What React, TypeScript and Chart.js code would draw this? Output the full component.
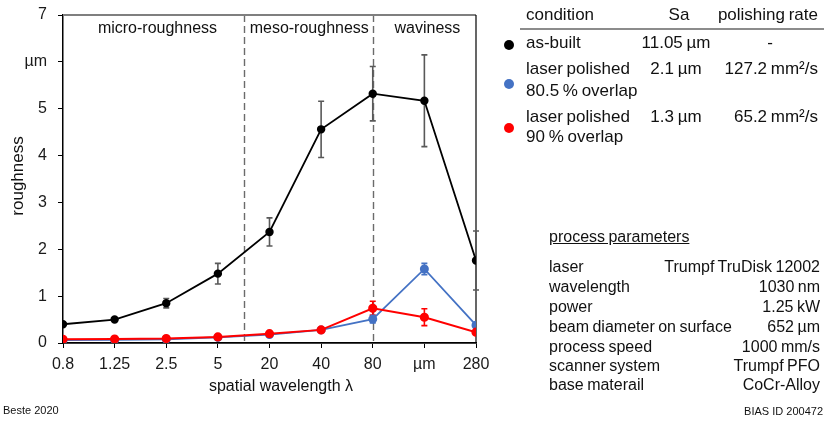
import React, { useEffect, useRef } from "react";
import { Chart, registerables } from "chart.js";

Chart.register(...registerables);

const xLabels = ["0.8", "1.25", "2.5", "5", "20", "40", "80", "µm", "280"];
const yTickLabels = ["0", "1", "2", "3", "4", "5", "µm", "7"];

const asBuilt = [0.4, 0.5, 0.85, 1.48, 2.37, 4.56, 5.32, 5.17, 1.76];
const asBuiltErr = [0, 0, 0.1, 0.22, 0.3, 0.6, 0.58, 0.98, 0.63];
const lp805 = [0.06, 0.065, 0.08, 0.12, 0.18, 0.28, 0.51, 1.58, 0.38];
const lp805Err = [0, 0, 0, 0, 0, 0, 0.08, 0.12, 0];
const lp90 = [0.08, 0.085, 0.095, 0.13, 0.2, 0.28, 0.74, 0.55, 0.23];
const lp90Err = [0, 0, 0, 0, 0, 0, 0.15, 0.18, 0];

const regionLabels = ["micro-roughness", "meso-roughness", "waviness"];
const regionCenters = [1.83, 4.77, 7.06]; // in category units
const dividers = [3.5, 6];

const xTitle = "spatial wavelength λ";
const yTitle = "roughness";

const legendHeader = ["condition", "Sa", "polishing rate"];
const legendNames = [["as-built"], ["laser polished", "80.5 % overlap"], ["laser polished", "90 % overlap"]];
const legendSa = ["11.05 µm", "2.1 µm", "1.3 µm"];
const legendRate = ["-", "127.2 mm²/s", "65.2 mm²/s"];
const seriesColors = ["#000000", "#4472C4", "#FF0000"];
const errColors = ["#595959", "#4472C4", "#FF0000"];

const paramTitle = "process parameters";
const paramNames = ["laser", "wavelength", "power", "beam diameter on surface", "process speed", "scanner system", "base materail"];
const paramValues = ["Trumpf TruDisk 12002", "1030 nm", "1.25 kW", "652 µm", "1000 mm/s", "Trumpf PFO", "CoCr-Alloy"];

const FONT = '"Liberation Sans", Arial, sans-serif';

const toPts = (arr: number[]) => arr.map((v, i) => ({ x: i, y: v }));

export default function App() {
  const ref = useRef<HTMLCanvasElement | null>(null);

  useEffect(() => {
    const canvas = ref.current;
    if (!canvas) return;
    const errs = [asBuiltErr, lp805Err, lp90Err];
    const vals = [asBuilt, lp805, lp90];

    const decor = {
      id: "decor",
      beforeDatasetsDraw(chart: any) {
        const { ctx, chartArea } = chart;
        const xs = chart.scales.x;
        const ys = chart.scales.y;
        ctx.save();
        ctx.strokeStyle = "#6b6b6b";
        ctx.lineWidth = 1.4;
        ctx.setLineDash([7, 4]);
        dividers.forEach((d) => {
          const px = Math.round(xs.getPixelForValue(d)) + 0.5;
          ctx.beginPath();
          ctx.moveTo(px, chartArea.top);
          ctx.lineTo(px, chartArea.bottom);
          ctx.stroke();
        });
        ctx.setLineDash([]);
        ctx.strokeStyle = "#7f7f7f";
        ctx.lineWidth = 2;
        ctx.beginPath();
        ctx.moveTo(chartArea.left, chartArea.top);
        ctx.lineTo(chartArea.right, chartArea.top);
        ctx.stroke();
        ctx.strokeStyle = "#000";
        ctx.lineWidth = 1.2;
        ctx.beginPath();
        ctx.moveTo(chartArea.right, chartArea.top);
        ctx.lineTo(chartArea.right, chartArea.bottom);
        ctx.stroke();
        errs.forEach((eArr, di) => {
          ctx.strokeStyle = errColors[di];
          ctx.lineWidth = 1.6;
          eArr.forEach((e, i) => {
            if (!e) return;
            const v = vals[di][i];
            const px = xs.getPixelForValue(i);
            const t = ys.getPixelForValue(v + e);
            const b = ys.getPixelForValue(v - e);
            ctx.beginPath();
            ctx.moveTo(px, t);
            ctx.lineTo(px, b);
            ctx.moveTo(px - 3, t);
            ctx.lineTo(px + 3, t);
            ctx.moveTo(px - 3, b);
            ctx.lineTo(px + 3, b);
            ctx.stroke();
          });
        });
        ctx.fillStyle = "#111";
        ctx.font = `16px ${FONT}`;
        ctx.textAlign = "center";
        ctx.textBaseline = "middle";
        regionLabels.forEach((lab, i) => {
          ctx.fillText(lab, xs.getPixelForValue(regionCenters[i]), 29);
        });
        ctx.fillText(xTitle, 281, 387);
        ctx.save();
        ctx.translate(18, 176);
        ctx.rotate(-Math.PI / 2);
        ctx.font = `17px ${FONT}`;
        ctx.fillText(yTitle, 0, 0);
        ctx.restore();
        ctx.restore();
      },
    };

    const chart = new Chart(canvas, {
      type: "line",
      data: {
        datasets: [
          {
            label: "as-built",
            data: toPts(asBuilt),
            borderColor: seriesColors[0],
            backgroundColor: seriesColors[0],
            pointBackgroundColor: seriesColors[0],
            pointBorderColor: seriesColors[0],
            borderWidth: 1.8,
            pointRadius: 3.3,
          },
          {
            label: "laser polished 90 % overlap",
            data: toPts(lp90),
            borderColor: seriesColors[2],
            backgroundColor: seriesColors[2],
            pointBackgroundColor: seriesColors[2],
            pointBorderColor: seriesColors[2],
            borderWidth: 2,
            pointRadius: 3.6,
          },
          {
            label: "laser polished 80.5 % overlap",
            data: toPts(lp805),
            borderColor: seriesColors[1],
            backgroundColor: seriesColors[1],
            pointBackgroundColor: seriesColors[1],
            pointBorderColor: seriesColors[1],
            borderWidth: 1.8,
            pointRadius: 3.6,
          },
        ],
      },
      options: {
        responsive: false,
        animation: false,
        layout: { padding: { left: 0, top: 15, right: 351, bottom: 0 } },
        plugins: { legend: { display: false }, tooltip: { enabled: false } },
        scales: {
          x: {
            type: "linear",
            min: 0,
            max: 8,
            afterFit: (s: any) => {
              s.height = 78;
              s.paddingLeft = 0;
              s.paddingRight = 0;
            },
            afterBuildTicks: (s: any) => {
              s.ticks = xLabels.map((_, i) => ({ value: i }));
            },
            ticks: {
              callback: (v: any) => xLabels[v] ?? "",
              color: "#1a1a1a",
              font: { family: FONT, size: 16 },
              padding: 7,
              maxRotation: 0,
              autoSkip: false,
            },
            grid: { drawOnChartArea: false, drawTicks: true, tickLength: 5, tickColor: "#000", tickWidth: 1 },
            border: { display: true, color: "#000", width: 1.8 },
          },
          y: {
            min: 0,
            max: 7,
            afterFit: (s: any) => {
              s.width = 63;
              s.paddingTop = 0;
              s.paddingBottom = 0;
            },
            ticks: {
              stepSize: 1,
              callback: (v: any) => yTickLabels[v] ?? "",
              color: "#1a1a1a",
              font: { family: FONT, size: 16 },
              padding: 11,
            },
            grid: { drawOnChartArea: false, drawTicks: true, tickLength: 5, tickColor: "#000", tickWidth: 1 },
            border: { display: true, color: "#000", width: 1.5 },
          },
        },
      },
      plugins: [decor],
    } as any);
    return () => chart.destroy();
  }, []);

  const txt = (s: string, cy: number, size: number, pos: any, extra: any = {}) => (
    <div
      style={{
        position: "absolute",
        top: cy - 11,
        height: 22,
        lineHeight: "22px",
        fontSize: size,
        fontFamily: FONT,
        color: "#111",
        whiteSpace: "nowrap",
        wordSpacing: -1,
        ...pos,
        ...extra,
      }}
    >
      {s}
    </div>
  );

  const centered = (s: string, cx: number, cy: number, size: number) =>
    txt(s, cy, size, { left: cx - 100, width: 200, textAlign: "center" });

  const rowY = [43, 69, 117];
  const rowY2 = [0, 91, 137];
  const dotY = [45, 84, 128];
  const paramY = [267, 287, 307, 327, 347, 366, 385];

  return (
    <div style={{ position: "fixed", left: 0, top: 0, width: 827, height: 421, background: "#fff", overflow: "hidden" }}>
      <canvas ref={ref} width={827} height={421} style={{ position: "absolute", left: 0, top: 0 }} />
      {txt(legendHeader[0], 15, 17, { left: 526 })}
      {centered(legendHeader[1], 679, 15, 17)}
      {txt(legendHeader[2], 15, 17, { right: 9 })}
      <div style={{ position: "absolute", left: 520, top: 28, width: 304, height: 2, background: "#8c8c8c" }} />
      {legendNames.map((lines, i) => (
        <React.Fragment key={i}>
          <div
            style={{
              position: "absolute",
              left: 504,
              top: dotY[i] - 5,
              width: 10,
              height: 10,
              borderRadius: 5,
              background: seriesColors[i],
            }}
          />
          {txt(lines[0], rowY[i], 17, { left: 526 })}
          {lines[1] ? txt(lines[1], rowY2[i], 17, { left: 526 }) : null}
          {centered(legendSa[i], 676, rowY[i], 17)}
          {i === 0 ? centered(legendRate[i], 770, rowY[i], 17) : txt(legendRate[i], rowY[i], 17, { right: 9 })}
        </React.Fragment>
      ))}
      {txt(paramTitle, 237, 16, { left: 549 }, { textDecoration: "underline" })}
      {paramNames.map((n, i) => (
        <React.Fragment key={n}>
          {txt(n, paramY[i], 16, { left: 549 })}
          {txt(paramValues[i], paramY[i], 16, { right: 7 })}
        </React.Fragment>
      ))}
      {txt("Beste 2020", 410, 11, { left: 3 }, { wordSpacing: 0 })}
      {txt("BIAS ID 200472", 411, 11, { right: 4 }, { wordSpacing: 0 })}
    </div>
  );
}
